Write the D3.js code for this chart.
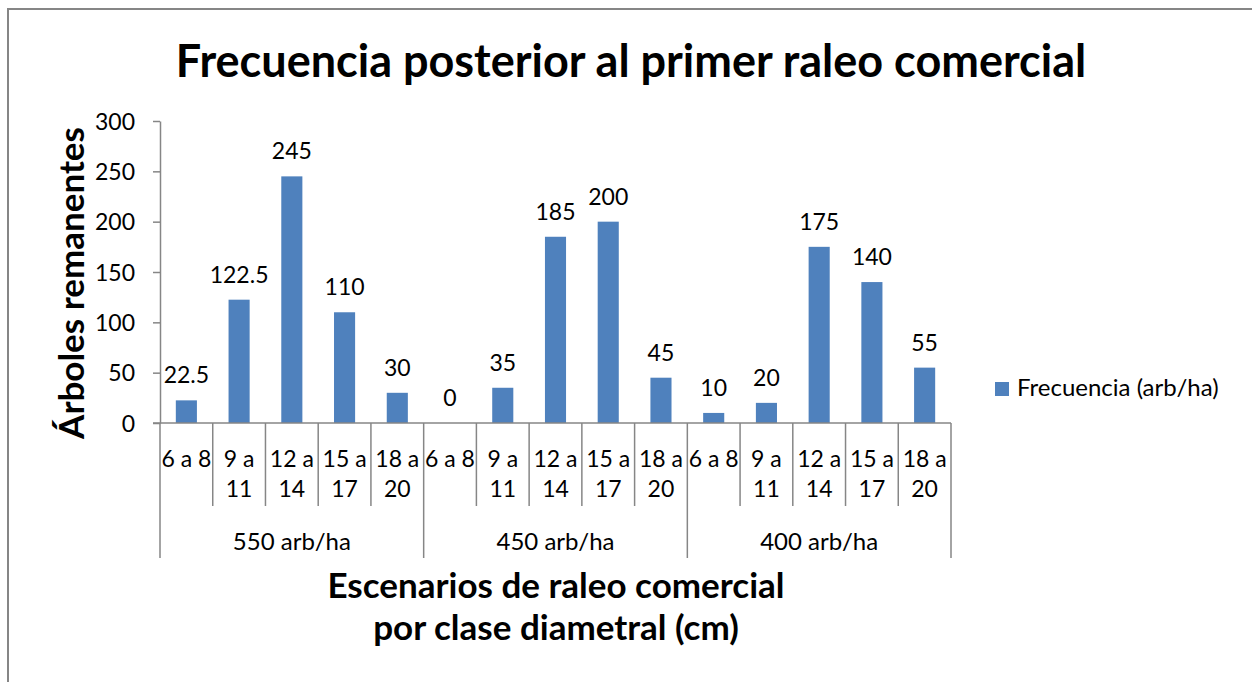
<!DOCTYPE html>
<html>
<head>
<meta charset="utf-8">
<script src="https://cdn.jsdelivr.net/npm/d3@7"></script>
<style>
  html, body { margin: 0; padding: 0; background: #fff; }
  svg { display: block; font-family: Lato, "Open Sans", sans-serif; }
</style>
</head>
<body>
<svg id="chart" width="1252" height="682"></svg>
<script>
// Thinning scenarios (stand density kept) and diameter classes within each
const scenarios = ["550 arb/ha", "450 arb/ha", "400 arb/ha"];
const diamClasses = ["6 a 8", "9 a 11", "12 a 14", "15 a 17", "18 a 20"];
// Remaining trees per diameter class, one array per scenario
const freq550 = [22.5, 122.5, 245, 110, 30];
const freq450 = [0, 35, 185, 200, 45];
const freq400 = [10, 20, 175, 140, 55];
const yTicks = [0, 50, 100, 150, 200, 250, 300];

const seriesName = "Frecuencia (arb/ha)";
const titleText = "Frecuencia posterior al primer raleo comercial";
const yTitle = "Árboles remanentes";
const xTitleLines = ["Escenarios de raleo comercial", "por clase diametral (cm)"];

const rows = [];
[freq550, freq450, freq400].forEach((vals, gi) => {
  vals.forEach((v, ci) => rows.push({
    key: gi + "|" + ci, group: scenarios[gi], cls: diamClasses[ci], value: v
  }));
});

const svg = d3.select("#chart");
const axisColor = "#868686";
const barColor = "#4F81BD";
const labelSize = 23;

// outer chart frame
svg.append("rect")
  .attr("x", 8).attr("y", 9).attr("width", 1260).attr("height", 700)
  .attr("fill", "none").attr("stroke", axisColor).attr("stroke-width", 2);

const plotLeft = 160, plotRight = 951, plotTop = 121, plotBottom = 423;

const x = d3.scaleBand().domain(rows.map(d => d.key)).range([plotLeft, plotRight]).padding(0);
const y = d3.scaleLinear().domain([0, 300]).range([plotBottom, plotTop]);
const bw = x.bandwidth();

// y axis
const yAxis = svg.append("g")
  .attr("transform", `translate(${plotLeft},0)`)
  .call(d3.axisLeft(y).tickValues(yTicks).tickSize(7).tickPadding(18).tickSizeOuter(0));
yAxis.select(".domain").attr("stroke", axisColor).attr("stroke-width", 1.5);
yAxis.selectAll(".tick line").attr("stroke", axisColor).attr("stroke-width", 1.5);
yAxis.selectAll(".tick text")
  .attr("font-family", "Lato, sans-serif").attr("font-size", labelSize).attr("fill", "#000")
  .attr("dy", "0.36em");

// bars
svg.append("g").selectAll("rect").data(rows).join("rect")
  .attr("x", d => x(d.key) + bw * 0.3)
  .attr("width", bw * 0.4)
  .attr("y", d => y(d.value))
  .attr("height", d => y(0) - y(d.value))
  .attr("fill", barColor);

// value labels
svg.append("g").selectAll("text").data(rows).join("text")
  .attr("x", d => x(d.key) + bw / 2)
  .attr("y", d => y(d.value) - 17)
  .attr("text-anchor", "middle")
  .attr("font-size", labelSize).attr("fill", "#000")
  .text(d => d.value);

// x axis baseline
svg.append("line")
  .attr("x1", plotLeft - 7).attr("x2", plotRight)
  .attr("y1", plotBottom).attr("y2", plotBottom)
  .attr("stroke", axisColor).attr("stroke-width", 1.5);

// category separators: short ones between classes, long ones between scenarios
const bounds = d3.range(rows.length + 1).map(i => ({
  x: i < rows.length ? x(rows[i].key) : plotRight,
  major: i % diamClasses.length === 0
}));
svg.append("g").selectAll("line").data(bounds).join("line")
  .attr("x1", d => d.x).attr("x2", d => d.x)
  .attr("y1", plotBottom).attr("y2", d => d.major ? 558 : 506)
  .attr("stroke", axisColor).attr("stroke-width", 1.5);

// class labels, wrapped to the band width
const classLabels = svg.append("g").selectAll("text").data(rows).join("text")
  .attr("x", d => x(d.key) + bw / 2)
  .attr("y", 467)
  .attr("text-anchor", "middle")
  .attr("font-size", labelSize).attr("fill", "#000");
classLabels.each(function(d) {
  const t = d3.select(this);
  t.text(d.cls);
  if (this.getComputedTextLength() > bw - 2) {
    const parts = d.cls.split(" ");
    const last = parts.pop();
    t.text(null);
    t.append("tspan").attr("x", x(d.key) + bw / 2).text(parts.join(" "));
    t.append("tspan").attr("x", x(d.key) + bw / 2).attr("dy", 30).text(last);
  }
});

// scenario labels
svg.append("g").selectAll("text").data(scenarios).join("text")
  .attr("x", (s, i) => (x(i + "|0") + (i + 1 < scenarios.length ? x((i + 1) + "|0") : plotRight)) / 2)
  .attr("y", 550)
  .attr("text-anchor", "middle")
  .attr("font-size", 24).attr("fill", "#000")
  .text(s => s);

// chart title
svg.append("text")
  .attr("x", 631).attr("y", 77)
  .attr("text-anchor", "middle")
  .attr("font-size", 45).attr("font-weight", "bold").attr("fill", "#000")
  .text(titleText);

// axis titles
svg.append("text")
  .attr("transform", "translate(84,283) rotate(-90)")
  .attr("text-anchor", "middle")
  .attr("font-size", 35).attr("font-weight", "bold").attr("fill", "#000")
  .text(yTitle);

svg.append("g").selectAll("text").data(xTitleLines).join("text")
  .attr("x", 556)
  .attr("y", (d, i) => 598 + i * 42)
  .attr("text-anchor", "middle")
  .attr("font-size", 35).attr("font-weight", "bold").attr("fill", "#000")
  .text(d => d);

// legend
const legend = svg.append("g").attr("transform", "translate(995,382)");
legend.append("rect").attr("width", 14).attr("height", 14).attr("fill", barColor);
legend.append("text")
  .attr("x", 22).attr("y", 14)
  .attr("font-size", 24).attr("fill", "#000")
  .text(seriesName);
</script>
</body>
</html>
